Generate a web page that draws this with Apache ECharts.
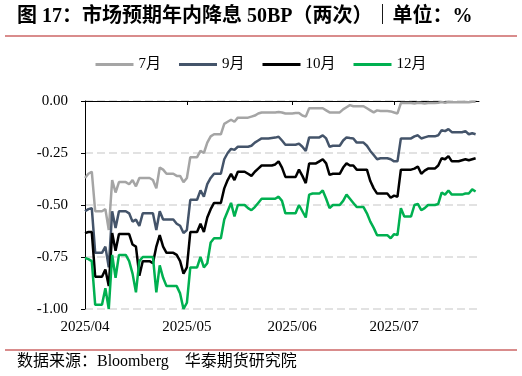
<!DOCTYPE html>
<html>
<head>
<meta charset="utf-8">
<script src="https://cdn.jsdelivr.net/npm/echarts@6/dist/echarts.min.js"></script>
<style>html,body{margin:0;padding:0;background:#fff}#c{width:522px;height:376px}</style>
</head>
<body>
<div id="c"></div>
<script>
// ---- data (daily, calendar days from 2025-04-01) ----
const startDate = '2025-04-01';
const seriesNames = ['7月', '9月', '10月', '12月'];
const monthTicks = ['2025-04-01', '2025-05-01', '2025-06-01', '2025-07-01'];

const jul = [
-0.37,-0.35,-0.34,-0.53,-0.53,-0.53,-0.52,-0.62,-0.38,-0.44,
-0.39,-0.39,-0.39,-0.40,-0.38,-0.41,-0.37,-0.37,-0.37,-0.37,
-0.38,-0.42,-0.32,-0.33,-0.35,-0.35,-0.35,-0.36,-0.36,-0.39,
-0.37,-0.27,-0.27,-0.27,-0.24,-0.25,-0.20,-0.17,-0.16,-0.16,
-0.16,-0.11,-0.10,-0.09,-0.10,-0.08,-0.08,-0.08,-0.08,-0.075,
-0.07,-0.06,-0.055,-0.055,-0.055,-0.055,-0.055,-0.053,-0.055,-0.06,
-0.06,-0.06,-0.058,-0.058,-0.07,-0.075,-0.035,-0.035,-0.035,-0.035,
-0.035,-0.045,-0.055,-0.055,-0.055,-0.055,-0.04,-0.03,-0.02,-0.025,
-0.025,-0.025,-0.025,-0.035,-0.045,-0.055,-0.045,-0.048,-0.048,-0.048,
-0.05,-0.055,-0.06,-0.01,-0.01,-0.01,-0.01,-0.012,-0.008,-0.01,
-0.012,-0.01,-0.01,-0.01,-0.008,-0.005,-0.008,-0.005,-0.006,-0.006,
-0.006,-0.006,-0.005,-0.006,-0.004,-0.004
];
const sep = [
-0.53,-0.52,-0.515,-0.73,-0.73,-0.73,-0.70,-0.80,-0.53,-0.61,
-0.53,-0.53,-0.53,-0.54,-0.58,-0.57,-0.60,-0.54,-0.54,-0.54,
-0.54,-0.62,-0.53,-0.57,-0.57,-0.57,-0.57,-0.59,-0.60,-0.635,
-0.62,-0.475,-0.475,-0.475,-0.43,-0.46,-0.40,-0.37,-0.35,-0.35,
-0.35,-0.28,-0.25,-0.23,-0.235,-0.22,-0.22,-0.22,-0.22,-0.215,
-0.20,-0.19,-0.18,-0.18,-0.18,-0.178,-0.176,-0.172,-0.19,-0.21,
-0.21,-0.21,-0.21,-0.205,-0.22,-0.24,-0.175,-0.175,-0.175,-0.175,
-0.165,-0.18,-0.22,-0.215,-0.215,-0.215,-0.19,-0.175,-0.178,-0.18,
-0.20,-0.20,-0.20,-0.215,-0.24,-0.26,-0.28,-0.275,-0.275,-0.275,
-0.28,-0.29,-0.29,-0.18,-0.18,-0.18,-0.18,-0.17,-0.165,-0.18,
-0.175,-0.17,-0.17,-0.17,-0.165,-0.14,-0.145,-0.135,-0.15,-0.15,
-0.15,-0.15,-0.145,-0.16,-0.155,-0.16
];
const oct = [
-0.635,-0.63,-0.63,-0.845,-0.845,-0.845,-0.81,-0.89,-0.635,-0.72,
-0.64,-0.64,-0.64,-0.64,-0.69,-0.70,-0.84,-0.77,-0.77,-0.77,
-0.78,-0.70,-0.645,-0.70,-0.73,-0.73,-0.73,-0.74,-0.77,-0.83,
-0.80,-0.63,-0.63,-0.63,-0.59,-0.63,-0.56,-0.52,-0.49,-0.49,
-0.49,-0.42,-0.38,-0.35,-0.38,-0.34,-0.34,-0.34,-0.35,-0.36,
-0.34,-0.325,-0.31,-0.31,-0.31,-0.31,-0.305,-0.29,-0.32,-0.365,
-0.365,-0.365,-0.365,-0.33,-0.36,-0.395,-0.30,-0.30,-0.30,-0.29,
-0.28,-0.30,-0.355,-0.35,-0.35,-0.35,-0.32,-0.30,-0.31,-0.31,
-0.33,-0.33,-0.33,-0.33,-0.385,-0.42,-0.445,-0.445,-0.445,-0.445,
-0.465,-0.455,-0.46,-0.33,-0.33,-0.33,-0.33,-0.325,-0.315,-0.35,
-0.335,-0.325,-0.325,-0.325,-0.31,-0.275,-0.28,-0.265,-0.29,-0.29,
-0.29,-0.285,-0.28,-0.285,-0.28,-0.275
];
const dec = [
-0.755,-0.76,-0.77,-0.98,-0.98,-0.98,-0.90,-1.0,-0.74,-0.85,
-0.74,-0.74,-0.74,-0.77,-0.83,-0.92,-0.77,-0.75,-0.75,-0.75,
-0.75,-0.92,-0.79,-0.85,-0.89,-0.89,-0.89,-0.89,-0.925,-1.0,
-0.97,-0.80,-0.80,-0.80,-0.75,-0.80,-0.78,-0.68,-0.66,-0.66,
-0.66,-0.57,-0.53,-0.49,-0.555,-0.50,-0.50,-0.50,-0.515,-0.525,
-0.51,-0.49,-0.47,-0.47,-0.47,-0.47,-0.47,-0.46,-0.48,-0.54,
-0.54,-0.54,-0.54,-0.50,-0.53,-0.56,-0.45,-0.445,-0.445,-0.445,
-0.43,-0.47,-0.515,-0.50,-0.50,-0.50,-0.48,-0.45,-0.47,-0.49,
-0.51,-0.51,-0.51,-0.54,-0.58,-0.61,-0.645,-0.645,-0.645,-0.645,
-0.66,-0.64,-0.645,-0.515,-0.555,-0.555,-0.555,-0.50,-0.495,-0.525,
-0.515,-0.50,-0.50,-0.50,-0.495,-0.44,-0.45,-0.43,-0.45,-0.45,
-0.45,-0.45,-0.445,-0.445,-0.425,-0.435
];

const seriesValues = [jul, sep, oct, dec];
const colors = ['#a5a5a5', '#44546a', '#000000', '#00b050'];

// ---- build ----
const DAY = 86400000;
const t0 = Date.parse(startDate + 'T00:00:00Z');
const dates = jul.map((_, i) => t0 + i * DAY);
const tMin = t0;
const tMax = Date.parse('2025-07-26T00:00:00Z');
const tickTs = monthTicks.map(s => Date.parse(s + 'T00:00:00Z'));
const fmtMonth = v => { const d = new Date(v); return d.getUTCFullYear() + '/' + String(d.getUTCMonth() + 1).padStart(2, '0'); };

const serif = '"Liberation Serif", "Times New Roman", "Noto Sans CJK SC", serif';

const chart = echarts.init(document.getElementById('c'), null, {renderer: 'canvas'});
chart.setOption({
  animation: false,
  backgroundColor: '#fff',
  color: colors,
  grid: {left: 85, right: 43, top: 101, bottom: 67, containLabel: false},
  legend: {
    top: 52, left: 'center',
    data: seriesNames,
    icon: 'rect', itemWidth: 38, itemHeight: 3, itemGap: 18,
    textStyle: {fontFamily: serif, fontSize: 15, color: '#000'}
  },
  xAxis: [{
    type: 'value', position: 'top', min: tMin, max: tMax, scale: true,
    axisLine: {show: true, onZero: false, lineStyle: {color: '#000', width: 1}},
    axisTick: {show: true, inside: true, length: 4, lineStyle: {color: '#000'}, customValues: tickTs},
    axisLabel: {show: false},
    splitLine: {show: false}
  }, {
    type: 'value', position: 'bottom', min: tMin, max: tMax, scale: true,
    axisLine: {show: false, onZero: false},
    axisTick: {show: false},
    axisLabel: {
      show: true, customValues: tickTs, margin: 11,
      fontFamily: serif, fontSize: 15, color: '#000',
      formatter: fmtMonth
    },
    splitLine: {show: false}
  }],
  yAxis: {
    type: 'value', min: -1, max: 0, interval: 0.25,
    axisLine: {show: true, onZero: false, lineStyle: {color: '#000', width: 1}},
    axisTick: {show: true, inside: false, length: 4, lineStyle: {color: '#000'}},
    axisLabel: {margin: 17, fontFamily: serif, fontSize: 15, color: '#000', formatter: v => v.toFixed(2)},
    splitLine: {show: true, lineStyle: {color: '#d9d9d9', type: [8, 4], width: 1.5}}
  },
  series: seriesNames.map((name, k) => ({
    name, type: 'line', xAxisIndex: 0,
    data: dates.map((t, i) => [t, seriesValues[k][i]]),
    symbol: 'none', showSymbol: false,
    lineStyle: {width: 2.5, color: colors[k]},
    itemStyle: {color: colors[k]}
  })),
  graphic: [
    {type: 'text', x: 17, y: 17, style: {text: '图 17：市场预期年内降息 50BP（两次）｜单位：%', font: 'bold 20px ' + serif, fill: '#000', verticalAlign: 'middle', align: 'left'}},
    {type: 'line', shape: {x1: 5, y1: 36, x2: 517, y2: 36}, style: {stroke: '#cc6666', lineWidth: 1.5}},
    {type: 'line', shape: {x1: 5, y1: 350, x2: 517, y2: 350}, style: {stroke: '#cc6666', lineWidth: 1.5}},
    {type: 'text', x: 17, y: 362, style: {text: '数据来源：Bloomberg    华泰期货研究院', font: '16px ' + serif, fill: '#000', verticalAlign: 'middle', align: 'left'}}
  ]
});
</script>
</body>
</html>
